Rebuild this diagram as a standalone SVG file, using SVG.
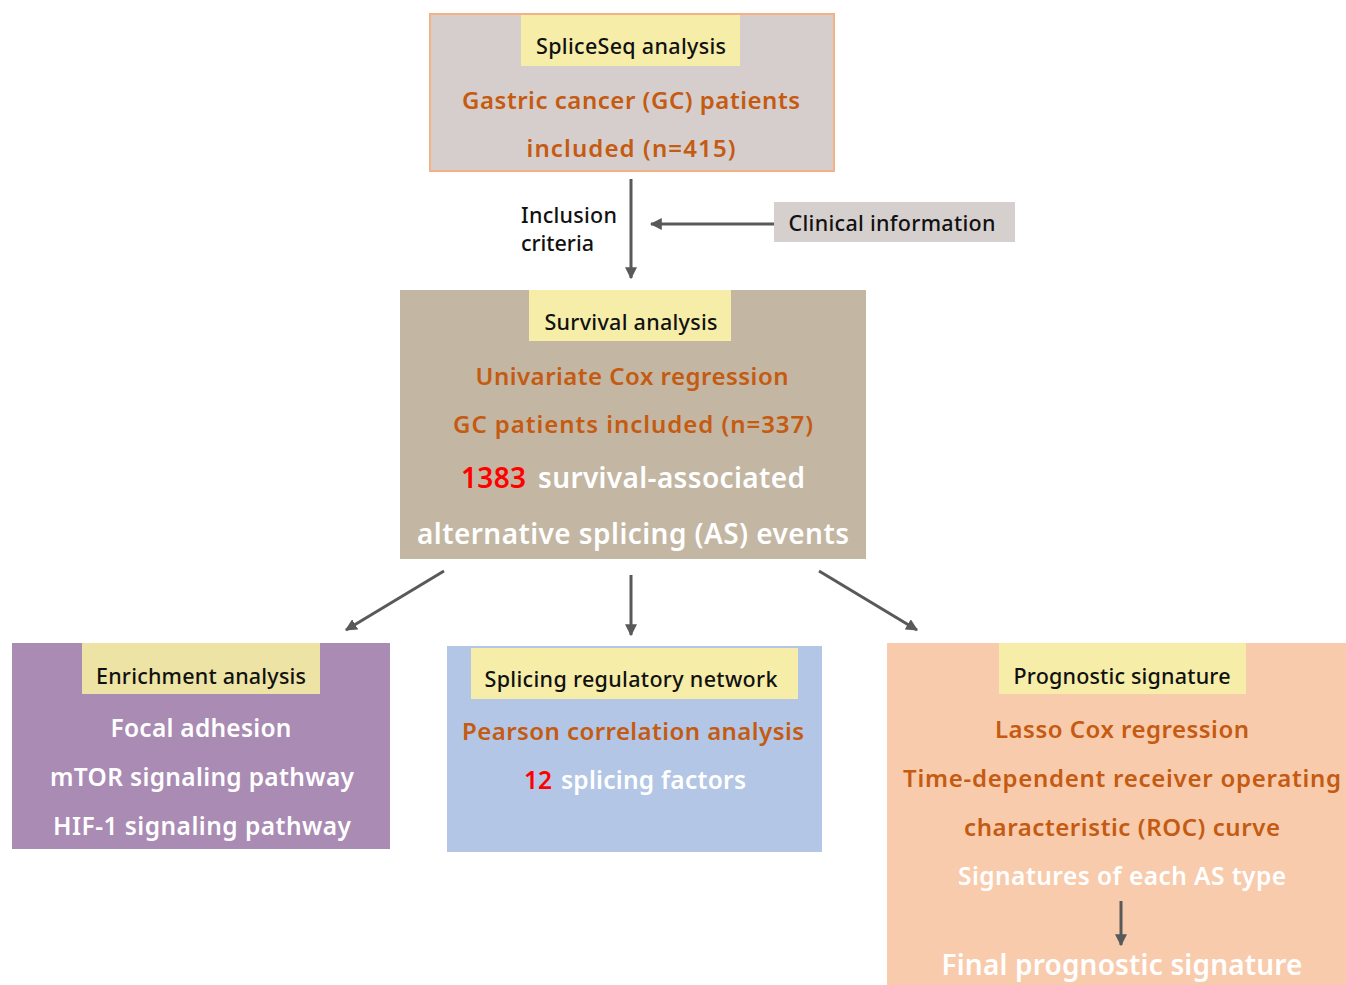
<svg xmlns="http://www.w3.org/2000/svg" width="1346" height="985" viewBox="0 0 1346 985">
<defs>
<style>
text{font-family:"Noto Sans","Open Sans","Liberation Sans",sans-serif;text-anchor:middle;dominant-baseline:central}
.hd{fill:#111;font-size:21.5px;font-weight:500}
.or{fill:#c55a11;font-size:24px;font-weight:600}
.wh{fill:#fff;font-size:24.5px;font-weight:600}
.big{font-size:28px}
.red{fill:#ff0000}
.lab{fill:#f6eda8}
.arr{stroke:#595959;stroke-width:3;fill:none;marker-end:url(#ah)}
</style>
<marker id="ah" viewBox="0 0 10 10" refX="9" refY="5" markerWidth="4" markerHeight="4" orient="auto" markerUnits="strokeWidth">
<path d="M0,0 L10,5 L0,10 z" fill="#595959"/>
</marker>
</defs>
<rect width="1346" height="985" fill="#fff"/>
<g id="connectors">
<line class="arr" x1="631" y1="179" x2="631" y2="278"/>
<line class="arr" x1="774" y1="224" x2="651" y2="224"/>
<line class="arr" x1="444" y1="571" x2="346" y2="630"/>
<line class="arr" x1="631" y1="575" x2="631" y2="635"/>
<line class="arr" x1="819" y1="571" x2="917" y2="630"/>
</g>
<g id="spliceseq">
<rect x="430" y="14" width="404" height="157" fill="#d5cecd" stroke="#f4b183" stroke-width="2"/>
<rect class="lab" x="521" y="15" width="219" height="51"/>
<text class="hd" x="631" y="45" textLength="190">SpliceSeq analysis</text>
<text class="or" x="631" y="99" textLength="338">Gastric cancer (GC) patients</text>
<text class="or" x="631" y="147" textLength="209">included (n=415)</text>
</g>
<g id="inclusion">
<text class="hd" x="521" y="214" style="text-anchor:start" textLength="96">Inclusion</text>
<text class="hd" x="521" y="242" style="text-anchor:start" textLength="73">criteria</text>
</g>
<g id="clinical">
<rect x="774" y="202" width="241" height="40" fill="#d5cfce"/>
<text class="hd" x="892" y="222" textLength="207">Clinical information</text>
</g>
<g id="survival">
<rect x="400" y="290" width="466" height="269" fill="#c3b6a2"/>
<rect class="lab" x="529" y="290" width="202" height="51"/>
<text class="hd" x="631" y="321" textLength="173">Survival analysis</text>
<text class="or" x="632" y="375" textLength="313">Univariate Cox regression</text>
<text class="or" x="633" y="423" textLength="360">GC patients included (n=337)</text>
<text class="wh big red" x="461" y="477" style="text-anchor:start" textLength="65">1383</text>
<text class="wh big" x="538" y="477" style="text-anchor:start" textLength="267">survival-associated</text>
<text class="wh big" x="633" y="533" textLength="432">alternative splicing (AS) events</text>
</g>
<g id="enrichment">
<rect x="12" y="643" width="378" height="206" fill="#a98bb3"/>
<rect x="82" y="643" width="238" height="51" fill="#ede3a4"/>
<text class="hd" x="201" y="675" textLength="210">Enrichment analysis</text>
<text class="wh" x="201" y="727" textLength="181">Focal adhesion</text>
<text class="wh" x="202" y="776" textLength="304">mTOR signaling pathway</text>
<text class="wh" x="202" y="825" textLength="298">HIF-1 signaling pathway</text>
</g>
<g id="splicing">
<rect x="447" y="646" width="375" height="206" fill="#b3c6e5"/>
<rect class="lab" x="471" y="648" width="327" height="51"/>
<text class="hd" x="631" y="678" textLength="293">Splicing regulatory network</text>
<text class="or" x="633" y="730" textLength="342">Pearson correlation analysis</text>
<text class="wh red" x="524" y="779" style="text-anchor:start" textLength="28">12</text>
<text class="wh" x="561" y="779" style="text-anchor:start" textLength="185">splicing factors</text>
</g>
<g id="prognostic">
<rect x="887" y="643" width="459" height="342" fill="#f8cbad"/>
<rect class="lab" x="999" y="643" width="247" height="51"/>
<text class="hd" x="1122" y="675" textLength="217">Prognostic signature</text>
<text class="or" x="1122" y="728" textLength="254">Lasso Cox regression</text>
<text class="or" x="1122" y="777" textLength="438">Time-dependent receiver operating</text>
<text class="or" x="1122" y="826" textLength="316">characteristic (ROC) curve</text>
<text class="wh" x="1122" y="875" textLength="328">Signatures of each AS type</text>
<line class="arr" x1="1121" y1="901" x2="1121" y2="945"/>
<text class="wh big" x="1122" y="964" textLength="361">Final prognostic signature</text>
</g>
</svg>
